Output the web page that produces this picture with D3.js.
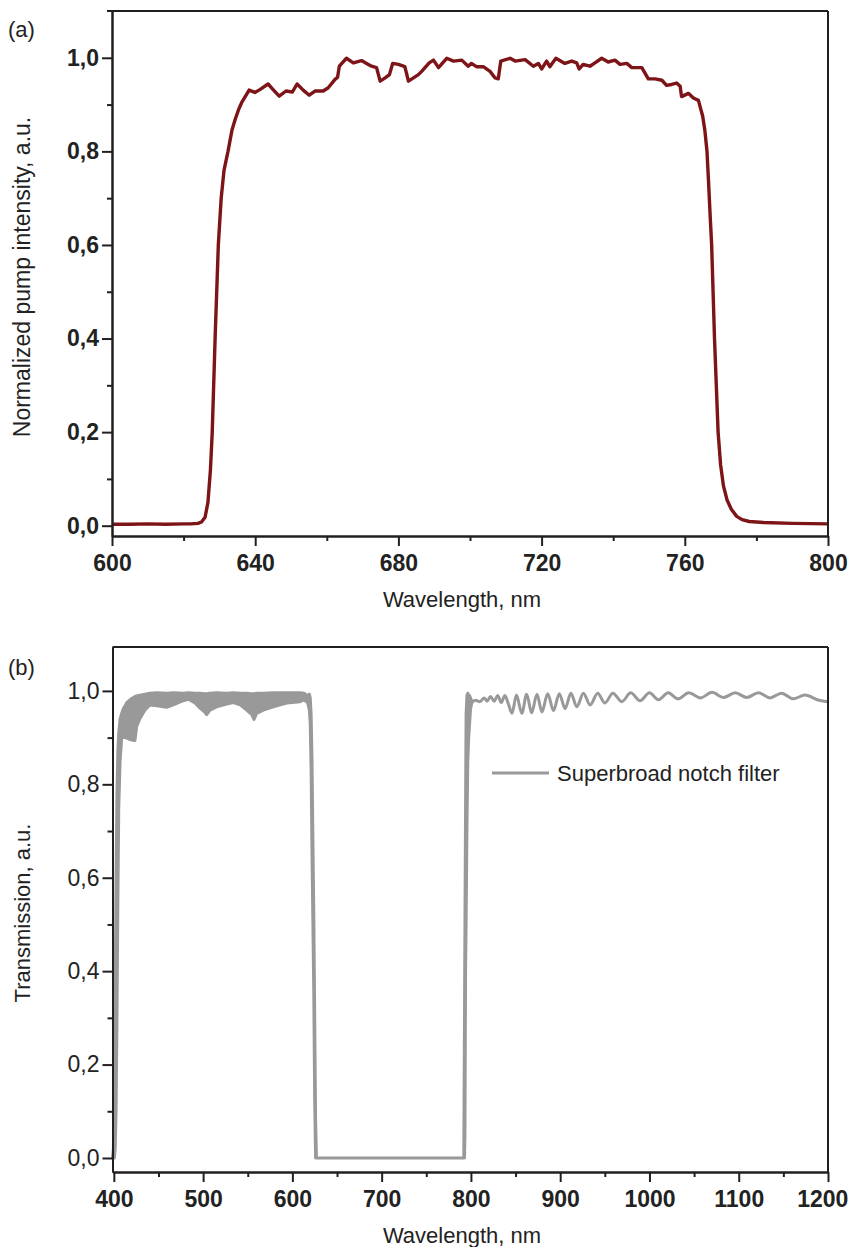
<!DOCTYPE html>
<html><head><meta charset="utf-8">
<script src="https://cdn.jsdelivr.net/npm/d3@7"></script>
<style>body{margin:0;background:#fff}svg{display:block}text{font-family:"Liberation Sans",Arial,sans-serif;fill:#222}</style>
</head><body><svg id="c" width="852" height="1247"></svg>
<script>
// ---------- Data: panel (a) pump spectrum ----------
const pumpWl = [600,605,610,615,620,622,624,625,626,626.8,627.5,628,628.8,629.7,630.5,631.3,632.4,633.5,634.4,635.3,636.2,637.3,638.3,639.9,641.3,643.6,645,646.7,648.6,650.4,651.7,653.4,655.1,656.7,659,660.4,662.3,663,663.5,665.5,667.4,669.7,671.1,672.5,673.9,674.9,676.3,677.5,678.4,680,681.8,682.8,684.2,685.6,686.5,688.6,689.8,691.2,693.5,695.4,697.7,699.5,700.4,701.8,703.7,705.6,707,707.9,708.6,711.2,712.6,715.4,717.7,719.1,720,721.4,722.3,724,726.5,728.4,729.8,730.5,731.6,733.5,734.9,736.8,738.6,740.5,741.9,743.8,745.2,748,749.8,751.7,753.6,754.9,756.3,757.7,758.7,759.1,761,762.4,763.8,765,765.6,766.2,766.6,767.1,767.5,768.3,769.3,770,770.8,771.8,773,774.5,776,778,782,790,800];
const pumpI  = [0.003,0.003,0.004,0.003,0.004,0.004,0.005,0.008,0.018,0.05,0.12,0.2,0.4,0.6,0.7,0.76,0.8,0.845,0.868,0.888,0.904,0.918,0.931,0.926,0.932,0.944,0.932,0.918,0.929,0.927,0.944,0.931,0.92,0.929,0.929,0.936,0.954,0.958,0.982,0.999,0.989,0.994,0.988,0.982,0.979,0.95,0.957,0.964,0.988,0.986,0.981,0.95,0.957,0.964,0.971,0.989,0.995,0.979,0.999,0.993,0.995,0.982,0.988,0.981,0.981,0.971,0.957,0.955,0.993,0.999,0.993,0.996,0.982,0.988,0.976,0.993,0.981,0.999,0.988,0.993,0.989,0.976,0.986,0.982,0.989,0.999,0.991,0.995,0.986,0.988,0.979,0.979,0.955,0.955,0.952,0.941,0.943,0.946,0.939,0.917,0.924,0.914,0.909,0.875,0.845,0.8,0.74,0.66,0.6,0.4,0.2,0.13,0.085,0.055,0.035,0.02,0.013,0.009,0.007,0.005,0.004];

// ---------- Data: panel (b) notch filter transmission ----------
// dense-oscillation band: upper and lower envelopes
const bandWl = [398.5,399.5,400.5,401.5,402.5,403.5,404.5,405.5,407,408.8,410.6,412.5,414.4,418,421.8,423.7,425.6,429.3,434.9,440.5,448,459.2,466.6,477.8,483.4,490.9,496.5,502.1,504,507.7,515.2,526.5,533.9,541.4,548.9,554.5,557,560,567.5,578.7,593.7,608.6,613,617,619,620,621,622,623,624,625,626,627,700,792,792.8,793.3,794,794.6,795.5,796.5,797.5,798.5,799.5,801];
const bandHi = [0,0.02,0.12,0.35,0.6,0.78,0.87,0.91,0.94,0.952,0.962,0.968,0.975,0.981,0.986,0.988,0.989,0.991,0.993,0.995,0.996,0.995,0.996,0.995,0.996,0.995,0.995,0.994,0.994,0.995,0.996,0.995,0.996,0.995,0.995,0.994,0.994,0.995,0.995,0.996,0.996,0.996,0.995,0.99,0.993,0.985,0.95,0.85,0.68,0.52,0.3,0.08,0,0,0,0.3,0.5,0.75,0.95,0.99,0.995,0.99,0.99,0.985,0.978];
const bandLo = [0,0,0,0.02,0.1,0.3,0.55,0.75,0.85,0.9,0.9,0.9,0.899,0.896,0.894,0.894,0.924,0.941,0.959,0.97,0.968,0.965,0.97,0.979,0.982,0.974,0.963,0.954,0.949,0.959,0.966,0.972,0.975,0.97,0.959,0.949,0.939,0.952,0.959,0.966,0.974,0.977,0.981,0.975,0.96,0.93,0.83,0.65,0.5,0.35,0.12,0,0,0,0,0,0.05,0.4,0.5,0.7,0.85,0.9,0.93,0.96,0.975];
// resolved interference fringes above 800 nm (peaks / troughs)
const tailWl = [801,805,810,815,818,822,826,830,834,838,842,846,851,857,862.5,868,874,879.5,886,892.5,899,905.5,912,918.6,926,933.5,942,950,959,969,979,989.5,1000,1010,1021,1032,1044,1057,1070,1083,1096,1109,1122,1135,1148,1161,1174,1190,1200];
const tailT  = [0.975,0.98,0.977,0.985,0.978,0.988,0.978,0.99,0.975,0.99,0.972,0.952,0.991,0.952,0.993,0.953,0.993,0.955,0.994,0.958,0.994,0.962,0.995,0.966,0.995,0.97,0.995,0.974,0.995,0.977,0.996,0.979,0.996,0.981,0.996,0.983,0.996,0.985,0.997,0.986,0.996,0.986,0.996,0.985,0.995,0.983,0.991,0.98,0.977];

// ---------- Tick values ----------
const aXMajor = [600,640,680,720,760,800];
const aXMinor = [620,660,700,740,780];
const yMajor  = [0,0.2,0.4,0.6,0.8,1.0];
const yMinor  = [0.1,0.3,0.5,0.7,0.9];
const bXMajor = [400,500,600,700,800,900,1000,1100,1200];
const bXMinor = [450,550,650,750,850,950,1050,1150];

const svg = d3.select('#c');
const fmt = d => d.toFixed(1).replace('.', ',');
const AX = '#231f20';

function styleAxis(g, bold, size){
  g.select('.domain').attr('stroke', AX).attr('stroke-width', 2);
  g.selectAll('.tick line').attr('stroke', AX).attr('stroke-width', 2);
  g.selectAll('.tick text').attr('fill', '#231f20')
    .style('font-family','"Liberation Sans",Arial,sans-serif')
    .style('font-size', size + 'px').style('font-weight', bold ? 'bold' : 'normal');
}

function panel(opt){
  const {x, y, xMaj, xMin, yBoldLabels} = opt;
  const [x0, x1] = x.range(), [y0, y1] = y.range();
  svg.append('line').attr('x1', x0 - opt.overhang).attr('x2', x1).attr('y1', y1).attr('y2', y1).attr('stroke', AX).attr('stroke-width', 2);
  svg.append('line').attr('x1', x1).attr('x2', x1).attr('y1', y1).attr('y2', y0).attr('stroke', AX).attr('stroke-width', 2);
  svg.append('g').attr('transform', `translate(0,${y0})`)
    .call(d3.axisBottom(x).tickValues(xMin).tickSize(5).tickSizeOuter(0).tickFormat(''))
    .call(g => styleAxis(g, true, 22));
  svg.append('g').attr('transform', `translate(${x0},0)`)
    .call(d3.axisLeft(y).tickValues(yMinor).tickSize(5).tickSizeOuter(0).tickFormat(''))
    .call(g => styleAxis(g, true, 22));
  const gx = svg.append('g').attr('transform', `translate(0,${y0})`)
    .call(d3.axisBottom(x).tickValues(xMaj).tickSize(10).tickPadding(9).tickSizeOuter(0).tickFormat(d3.format('d')))
    .call(g => styleAxis(g, true, 23));
  // keep the last label inside the page, as the original does
  gx.selectAll('.tick text').filter(d => d === xMaj[xMaj.length - 1]).attr('dx', opt.lastShift);
  svg.append('g').attr('transform', `translate(${x0},0)`)
    .call(d3.axisLeft(y).tickValues(yMajor).tickSize(10).tickPadding(3).tickSizeOuter(0).tickFormat(fmt))
    .call(g => styleAxis(g, yBoldLabels, 23));
}

// ---------- Panel (a) ----------
const xa = d3.scaleLinear().domain([600, 800]).range([112, 828]);
const ya = d3.scaleLinear().domain([-0.022, 1.1]).range([536, 11]);
const pump = pumpWl.map((w, i) => [w, pumpI[i]]);
svg.append('path').datum(pump)
  .attr('d', d3.line().x(d => xa(d[0])).y(d => ya(d[1])))
  .attr('fill', 'none').attr('stroke', '#7d1417').attr('stroke-width', 3.4).attr('stroke-linejoin', 'round');
panel({x: xa, y: ya, xMaj: aXMajor, xMin: aXMinor, yBoldLabels: true, overhang: 5, lastShift: 0});

svg.append('text').attr('x', 8).attr('y', 37).style('font-size', '22px').text('(a)');
svg.append('text').attr('x', 462).attr('y', 607).attr('text-anchor', 'middle').style('font-size', '22px').text('Wavelength, nm');
svg.append('text').attr('transform', 'translate(30,277) rotate(-90)').attr('text-anchor', 'middle').style('font-size', '23px').text('Normalized pump intensity, a.u.');

// ---------- Panel (b) ----------
const xb = d3.scaleLinear().domain([398.5, 1200]).range([112.5, 828]);
const yb = d3.scaleLinear().domain([-0.03, 1.094]).range([1172, 647]);
const GR = '#999999';
const band = bandWl.map((w, i) => [w, bandHi[i], bandLo[i]]);
svg.append('path').datum(band)
  .attr('d', d3.area().x(d => xb(d[0])).y0(d => yb(d[2])).y1(d => yb(d[1])))
  .attr('fill', GR).attr('stroke', GR).attr('stroke-width', 3).attr('stroke-linejoin', 'round');
const tail = tailWl.map((w, i) => [w, tailT[i]]);
svg.append('path').datum(tail)
  .attr('d', d3.line().curve(d3.curveMonotoneX).x(d => xb(d[0])).y(d => yb(d[1])))
  .attr('fill', 'none').attr('stroke', GR).attr('stroke-width', 3);
panel({x: xb, y: yb, xMaj: bXMajor, xMin: bXMinor, yBoldLabels: false, overhang: 0, lastShift: '-0.25em'});

svg.append('text').attr('x', 8).attr('y', 675).style('font-size', '22px').text('(b)');
svg.append('text').attr('x', 462).attr('y', 1243).attr('text-anchor', 'middle').style('font-size', '22px').text('Wavelength, nm');
svg.append('text').attr('transform', 'translate(30,913) rotate(-90)').attr('text-anchor', 'middle').style('font-size', '22px').text('Transmission, a.u.');

// legend
svg.append('line').attr('x1', 492).attr('x2', 549).attr('y1', 773).attr('y2', 773).attr('stroke', GR).attr('stroke-width', 3);
svg.append('text').attr('x', 557).attr('y', 781).style('font-size', '22px').text('Superbroad notch filter');
</script></body></html>
